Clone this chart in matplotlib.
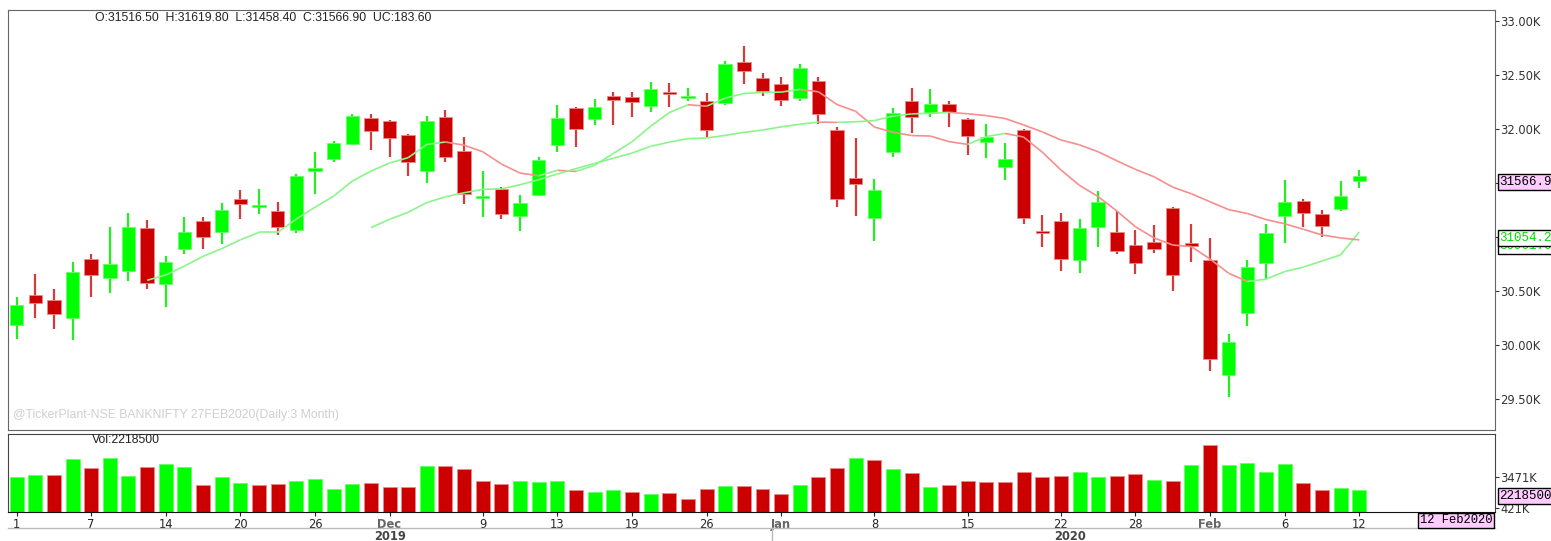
import numpy as np
import pandas as pd
import matplotlib
matplotlib.use("Agg")
import matplotlib.pyplot as plt
import matplotlib.transforms as mtransforms
from matplotlib.collections import LineCollection

plt.rcParams['font.family'] = ['Liberation Sans', 'DejaVu Sans']

# trading days (NSE, 3 months to 12 Feb 2020, incl. budget-day session 1 Feb)
holidays = ['2019-11-12', '2019-12-25']
dates = pd.bdate_range('2019-11-01', '2020-02-12', freq='C', holidays=holidays)
dates = dates.union(pd.DatetimeIndex(['2020-02-01']))

opens = [30188, 30460, 30417, 30250, 30794, 30618, 30688, 31083, 30568, 30889,
         31145, 31046, 31349, 31275, 31244, 31065, 31611, 31725, 31861, 32099,
         32077, 31944, 31611, 32108, 31796, 31358, 31442, 31194, 31392, 31852,
         32192, 32090, 32308, 32294, 32216, 32340, 32284, 32262, 32238, 32618,
         32475, 32414, 32290, 32442, 31994, 31544, 31173, 31790, 32256, 32145,
         32234, 32090, 31882, 31651, 31991, 31046, 31145, 30784, 31090, 31044,
         30926, 30957, 31271, 30942, 30790, 29719, 30294, 30757, 31192, 31336,
         31210, 31257, 31516.5]
highs = [30447, 30657, 30521, 30769, 30843, 31095, 31219, 31157, 30824, 31182,
         31182, 31318, 31435, 31442, 31324, 31583, 31784, 31886, 32139, 32139,
         32080, 31950, 32120, 32176, 31923, 31608, 31463, 31386, 31744, 32222,
         32201, 32275, 32343, 32343, 32435, 32423, 32380, 32331, 32630, 32768,
         32516, 32484, 32602, 32484, 32016, 31914, 31534, 32192, 32380, 32368,
         32256, 32102, 32044, 31868, 32000, 31201, 31219, 31167, 31429, 31241,
         31065, 31108, 31280, 31118, 30991, 30099, 30787, 31118, 31525, 31355,
         31250, 31516, 31619.8]
lows = [30053, 30250, 30145, 30046, 30447, 30484, 30595, 30521, 30349, 30843,
        30889, 30935, 31169, 31213, 31016, 31034, 31398, 31694, 31850, 31806,
        31744, 31565, 31497, 31692, 31306, 31188, 31169, 31058, 31380, 31790,
        31836, 32037, 32037, 32108, 32160, 32206, 32256, 31929, 32220, 32414,
        32308, 32216, 32262, 32049, 31275, 31194, 30963, 31744, 31966, 32108,
        32016, 31756, 31734, 31528, 31120, 30910, 30688, 30669, 30910, 30840,
        30657, 30855, 30503, 30771, 29762, 29521, 30179, 30608, 30942, 31095,
        30997, 31240, 31458.4]
closes = [30373, 30386, 30284, 30676, 30651, 30750, 31095, 30577, 30769, 31044,
          31003, 31250, 31306, 31300, 31095, 31565, 31639, 31868, 32120, 31984,
          31914, 31692, 32077, 31744, 31401, 31382, 31213, 31312, 31713, 32099,
          31997, 32201, 32269, 32247, 32368, 32321, 32296, 31991, 32599, 32540,
          32352, 32269, 32568, 32142, 31349, 31488, 31438, 32151, 32111, 32231,
          32157, 31935, 31929, 31719, 31173, 31034, 30794, 31083, 31324, 30870,
          30762, 30889, 30651, 30919, 29868, 30028, 30719, 31040, 31324, 31222,
          31099, 31377, 31566.9]
volumes_k = [3470, 3700, 3700, 5270, 4370, 5370, 3570, 4500, 4830, 4470,
             2700, 3470, 2900, 2700, 2800, 3130, 3330, 2330, 2800, 2930,
             2470, 2470, 4600, 4630, 4270, 3130, 2800, 3130, 3030, 3130,
             2230, 2000, 2230, 2000, 1800, 1900, 1330, 2330, 2570, 2570,
             2330, 1800, 2700, 3470, 4370, 5370, 5170, 4270, 3930, 2470,
             2700, 3130, 3030, 3030, 4030, 3470, 3600, 4030, 3470, 3600,
             3800, 3230, 3130, 4700, 6730, 4700, 4930, 4030, 4800, 2900,
             2230, 2430, 2218.5]

tick_dates = ['2019-11-01', '2019-11-07', '2019-11-14', '2019-11-20', '2019-11-26',
              '2019-12-02', '2019-12-09', '2019-12-13', '2019-12-19', '2019-12-26',
              '2020-01-01', '2020-01-08', '2020-01-15', '2020-01-22', '2020-01-28',
              '2020-02-01', '2020-02-06', '2020-02-12']
tick_labels = ['1', '7', '14', '20', '26', 'Dec', '9', '13', '19', '26',
               'Jan', '8', '15', '22', '28', 'Feb', '6', '12']
price_ticks = [29500, 30000, 30500, 31000, 31500, 32000, 32500, 33000]
vol_ticks = [421000, 3471000]
vol_tick_labels = ['421K', '3471K']
ma_periods = [8, 20]
ma_labels = ['31054.2', '30961.6']

header = 'O:31516.50  H:31619.80  L:31458.40  C:31566.90  UC:183.60'
watermark = '@TickerPlant-NSE BANKNIFTY 27FEB2020(Daily:3 Month)'

df = pd.DataFrame({'open': opens, 'high': highs, 'low': lows, 'close': closes,
                   'vol': np.array(volumes_k) * 1000}, index=dates)
x = np.arange(len(df))

GREEN, RED = '#00ff00', '#cc0000'
AXFONT = dict(family='DejaVu Sans', size=8.3)
W, H = 1551, 541
fig = plt.figure(figsize=(W / 100, H / 100), dpi=100)
ax = fig.add_axes([8 / W, 1 - 430 / H, 1487 / W, 420 / H])
axv = fig.add_axes([8 / W, 1 - 512 / H, 1487 / W, 78.5 / H])

up = df['close'] >= df['open']
body_lo = np.minimum(df['open'], df['close'])
body_h = np.maximum((df['close'] - df['open']).abs(), 18)

ax.vlines(x[up], df['low'][up], df['high'][up], color='#22ee22', lw=1.6, zorder=2)
ax.vlines(x[~up], df['low'][~up], df['high'][~up], color='#d43c3c', lw=1.6, zorder=2)
ax.bar(x[up], body_h[up], bottom=body_lo[up], width=0.72, color=GREEN,
       edgecolor='#66ff66', lw=0.6, zorder=3)
ax.bar(x[~up], body_h[~up], bottom=body_lo[~up], width=0.72, color=RED,
       edgecolor='#e88a8a', lw=0.6, zorder=3)

# moving averages, green where rising, red where falling
for n in ma_periods:
    ma = df['close'].rolling(n).mean().values
    segs, cols = [], []
    for i in range(1, len(ma)):
        if np.isnan(ma[i - 1]):
            continue
        segs.append([(x[i - 1], ma[i - 1]), (x[i], ma[i])])
        cols.append('#8af58a' if ma[i] >= ma[i - 1] else '#f78e8e')
    ax.add_collection(LineCollection(segs, colors=cols, linewidths=1.2, zorder=4))
    df[f'ma{n}'] = ma

xlim = (-0.46, 79.28)
ax.set_xlim(*xlim)
ax.set_ylim(29213, 33102)
ax.set_xticks([])
ax.yaxis.tick_right()
ax.set_yticks(price_ticks)
ax.set_yticklabels([f'{v / 1000:.2f}K' for v in price_ticks], **AXFONT)
ax.tick_params(axis='y', length=3, pad=1, colors='#333333')
for s in ax.spines.values():
    s.set_color('#666666')

# volume panel
vcol = [GREEN] + [GREEN if c >= p else RED for p, c in zip(df['close'][:-1], df['close'][1:])]
vedge = ['#66ff66' if c == GREEN else '#e88a8a' for c in vcol]
axv.bar(x, df['vol'], width=0.75, color=vcol, edgecolor=vedge, lw=0.6)
axv.set_xlim(*xlim)
axv.set_ylim(0, 7850000)
axv.yaxis.tick_right()
axv.set_yticks(vol_ticks)
axv.set_yticklabels(vol_tick_labels, **AXFONT)
axv.tick_params(axis='y', length=3, pad=1, colors='#333333')
pos = [df.index.get_loc(pd.Timestamp(d)) for d in tick_dates]
axv.set_xticks(pos)
axv.set_xticklabels(tick_labels, **AXFONT)
axv.tick_params(axis='x', length=3, pad=1, colors='#222222')
for lab in axv.get_xticklabels():
    if not lab.get_text().isdigit():
        lab.set_fontweight('bold')
        lab.set_color('#666666')
for s in axv.spines.values():
    s.set_color('#444444')
axv.spines['bottom'].set_color('#111111')

# year row below the date axis
tr = mtransforms.blended_transform_factory(axv.transData, axv.transAxes)
split = df.index.get_loc(pd.Timestamp('2020-01-01')) - 0.5
axv.plot([xlim[0], xlim[1]], [-0.205, -0.205], color='#bbbbbb', lw=1,
         transform=tr, clip_on=False)
axv.plot([split, split], [-0.205, -0.37], color='#bbbbbb', lw=1,
         transform=tr, clip_on=False)
axv.text((xlim[0] + split) / 2, -0.31, '2019', transform=tr, ha='center', va='center',
         family='DejaVu Sans', fontsize=8.3, fontweight='bold', color='#444444')
axv.text((split + x[-1] + 0.5) / 2, -0.31, '2020', transform=tr, ha='center', va='center',
         family='DejaVu Sans', fontsize=8.3, fontweight='bold', color='#444444')

# value flags on the right
mono = 'Liberation Mono'
trp = mtransforms.blended_transform_factory(ax.transAxes, ax.transData)
ax.text(1.003, df['close'].iloc[-1], f"{df['close'].iloc[-1]:.1f}", transform=trp,
        ha='left', va='top', family=mono, fontsize=9, color='black', zorder=6,
        bbox=dict(boxstyle='square,pad=0.15', fc='#ffccff', ec='black', lw=1))
for n, lab in reversed(list(zip(ma_periods, ma_labels))):
    ax.text(1.003, df[f'ma{n}'].iloc[-1], lab, transform=trp, ha='left', va='top',
            family=mono, fontsize=9, color='#00dd00', zorder=6,
            bbox=dict(boxstyle='square,pad=0.15', fc='white', ec='black', lw=1))
trv = mtransforms.blended_transform_factory(axv.transAxes, axv.transData)
axv.text(1.003, df['vol'].iloc[-1], f"{df['vol'].iloc[-1]:.0f}", transform=trv,
         ha='left', va='top', family=mono, fontsize=9, color='black', zorder=6,
         bbox=dict(boxstyle='square,pad=0.15', fc='#ffccff', ec='black', lw=1))
axv.text(0.998, -0.03, df.index[-1].strftime('%d %b%Y'), transform=axv.transAxes,
         ha='right', va='top', family=mono, fontsize=8.7, color='black', zorder=6,
         bbox=dict(boxstyle='square,pad=0.15', fc='#ffccff', ec='black', lw=1))

fig.text(95 / W, 1 - 18 / H, header, fontsize=8.8, color='#222222', va='center')
fig.text(92 / W, 1 - 440 / H, f"Vol:{df['vol'].iloc[-1]:.0f}", fontsize=8.8,
         color='#222222', va='center')
fig.text(13 / W, 1 - 415 / H, watermark, fontsize=8.8, color='#cfcfcf', va='center')

fig.savefig('out.png', dpi=100)
